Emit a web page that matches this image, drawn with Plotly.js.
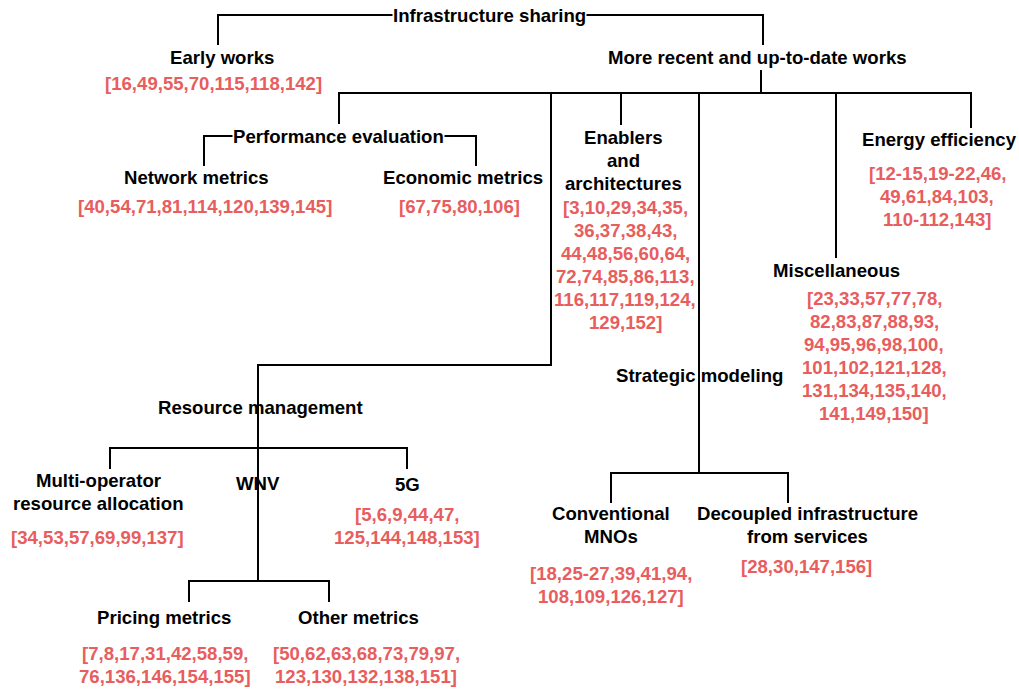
<!DOCTYPE html>
<html>
<head>
<meta charset="utf-8">
<script src="https://cdn.plot.ly/plotly-3.0.1.min.js"></script>
<style>html,body{margin:0;padding:0;background:#fff;}#chart{width:1019px;height:691px;}</style>
</head>
<body>
<div id="chart"></div>
<script>
// ---- Data: node labels, parent relations and reference lists ----
const nodeKeys = ["root","early","recent","perf","network","economic","enablers","resource","multi","wnv","g5","pricing","other","strategic","conventional","decoupled","misc","energy"];
const nodeLabels = {
  root: ["Infrastructure sharing"],
  early: ["Early works"],
  recent: ["More recent and up-to-date works"],
  perf: ["Performance evaluation"],
  network: ["Network metrics"],
  economic: ["Economic metrics"],
  enablers: ["Enablers","and","architectures"],
  resource: ["Resource management"],
  multi: ["Multi-operator","resource allocation"],
  wnv: ["WNV"],
  g5: ["5G"],
  pricing: ["Pricing metrics"],
  other: ["Other metrics"],
  strategic: ["Strategic modeling"],
  conventional: ["Conventional","MNOs"],
  decoupled: ["Decoupled infrastructure","from services"],
  misc: ["Miscellaneous"],
  energy: ["Energy efficiency"]
};
const parentOf = {
  early: "root", recent: "root",
  perf: "recent", resource: "recent", enablers: "recent", strategic: "recent", misc: "recent", energy: "recent",
  network: "perf", economic: "perf",
  multi: "resource", wnv: "resource", g5: "resource",
  pricing: "wnv", other: "wnv",
  conventional: "strategic", decoupled: "strategic"
};
const nodeRefs = {
  early: ["[16,49,55,70,115,118,142]"],
  network: ["[40,54,71,81,114,120,139,145]"],
  economic: ["[67,75,80,106]"],
  enablers: ["[3,10,29,34,35,","36,37,38,43,","44,48,56,60,64,","72,74,85,86,113,","116,117,119,124,","129,152]"],
  multi: ["[34,53,57,69,99,137]"],
  g5: ["[5,6,9,44,47,","125,144,148,153]"],
  pricing: ["[7,8,17,31,42,58,59,","76,136,146,154,155]"],
  other: ["[50,62,63,68,73,79,97,","123,130,132,138,151]"],
  conventional: ["[18,25-27,39,41,94,","108,109,126,127]"],
  decoupled: ["[28,30,147,156]"],
  misc: ["[23,33,57,77,78,","82,83,87,88,93,","94,95,96,98,100,","101,102,121,128,","131,134,135,140,","141,149,150]"],
  energy: ["[12-15,19-22,46,","49,61,84,103,","110-112,143]"]
};

// ---- Layout (diagram geometry, pixel space) ----
const geo = {
  root:        {x:489, y:15,  lx:489, stem:15,  bus:15, bg:true},
  early:       {x:222, y:57,  lx:218, top:45,  rx:213, ry:83},
  recent:      {x:757, y:57,  lx:761, top:45, tx:763, stem:70, bus:93},
  perf:        {x:338, y:136, lx:339, top:124, stem:136, bus:136, bg:true},
  network:     {x:196, y:177, lx:204, top:166, rx:205, ry:206},
  economic:    {x:463, y:177, lx:476, top:166, rx:459, ry:206},
  enablers:    {x:623, y:137, lx:621, top:125, rx:625, ry:207},
  resource:    {x:260, y:407, lx:258, top:407, via:{x:551, y:365}, stem:407, bus:448},
  multi:       {x:98,  y:480, lx:110, top:469, rx:97, ry:537},
  wnv:         {x:258, y:483, lx:258, top:483, stem:483, bus:581},
  g5:          {x:407, y:484, lx:407, top:469, rx:407, ry:514},
  pricing:     {x:164, y:617, lx:189, top:602, rx:165, ry:653},
  other:       {x:358, y:617, lx:329, top:602, rx:366, ry:653},
  strategic:   {x:699, y:375, lx:699, top:375, stem:375, bus:473},
  conventional:{x:611, y:513, lx:611, top:503, rx:611, ry:573},
  decoupled:   {x:807, y:513, lx:788, top:503, rx:806, ry:566},
  misc:        {x:836, y:270, lx:836, top:258, rx:874, ry:298},
  energy:      {x:939, y:139, lx:971, top:128, rx:937, ry:173}
};

const LH = 23;
const FONT = "Liberation Sans, Arial, Helvetica, sans-serif";
const FS = 18.6;
const RED = "#E85D5D";

// Build connector polylines
const lx = [], ly = [];
nodeKeys.forEach(k => {
  const p = parentOf[k];
  if (!p) return;
  const P = geo[p], C = geo[k];
  const cx = (k === "recent") ? C.tx : C.lx;
  lx.push(P.lx, P.lx); ly.push(P.stem, P.bus);
  if (C.via) {
    lx.push(C.via.x, C.via.x, C.lx, C.lx); ly.push(P.bus, C.via.y, C.via.y, C.top);
  } else {
    lx.push(cx, cx); ly.push(P.bus, C.top);
  }
  lx.push(null); ly.push(null);
});
lx.push(geo.recent.lx, geo.recent.lx, null); ly.push(geo.recent.stem, geo.recent.bus, null);

const traces = [{
  type: "scatter", mode: "lines", x: lx, y: ly,
  line: {color: "#000", width: 2}, hoverinfo: "skip", showlegend: false, connectgaps: false
}];

const annotations = [];
function addLines(lines, x, y0, color, bg) {
  lines.forEach((s, i) => {
    const a = {
      x: x, y: y0 + i * LH, xref: "x", yref: "y",
      text: "<b>" + s + "</b>",
      showarrow: false, xanchor: "center", yanchor: "middle",
      font: {family: FONT, size: FS, color: color}
    };
    if (bg) { a.bgcolor = "#fff"; a.borderpad = 0; }
    annotations.push(a);
  });
}
nodeKeys.forEach(k => {
  const g = geo[k];
  addLines(nodeLabels[k], g.x, g.y, "#000", g.bg);
  if (nodeRefs[k]) addLines(nodeRefs[k], g.rx, g.ry, RED, false);
});

const layout = {
  width: 1019, height: 691,
  margin: {l: 0, r: 0, t: 0, b: 0},
  paper_bgcolor: "#fff", plot_bgcolor: "#fff",
  xaxis: {range: [0, 1019], visible: false, fixedrange: true},
  yaxis: {range: [691, 0], visible: false, fixedrange: true},
  annotations: annotations,
  showlegend: false
};
Plotly.newPlot("chart", traces, layout, {displayModeBar: false, staticPlot: true});
</script>
</body>
</html>
